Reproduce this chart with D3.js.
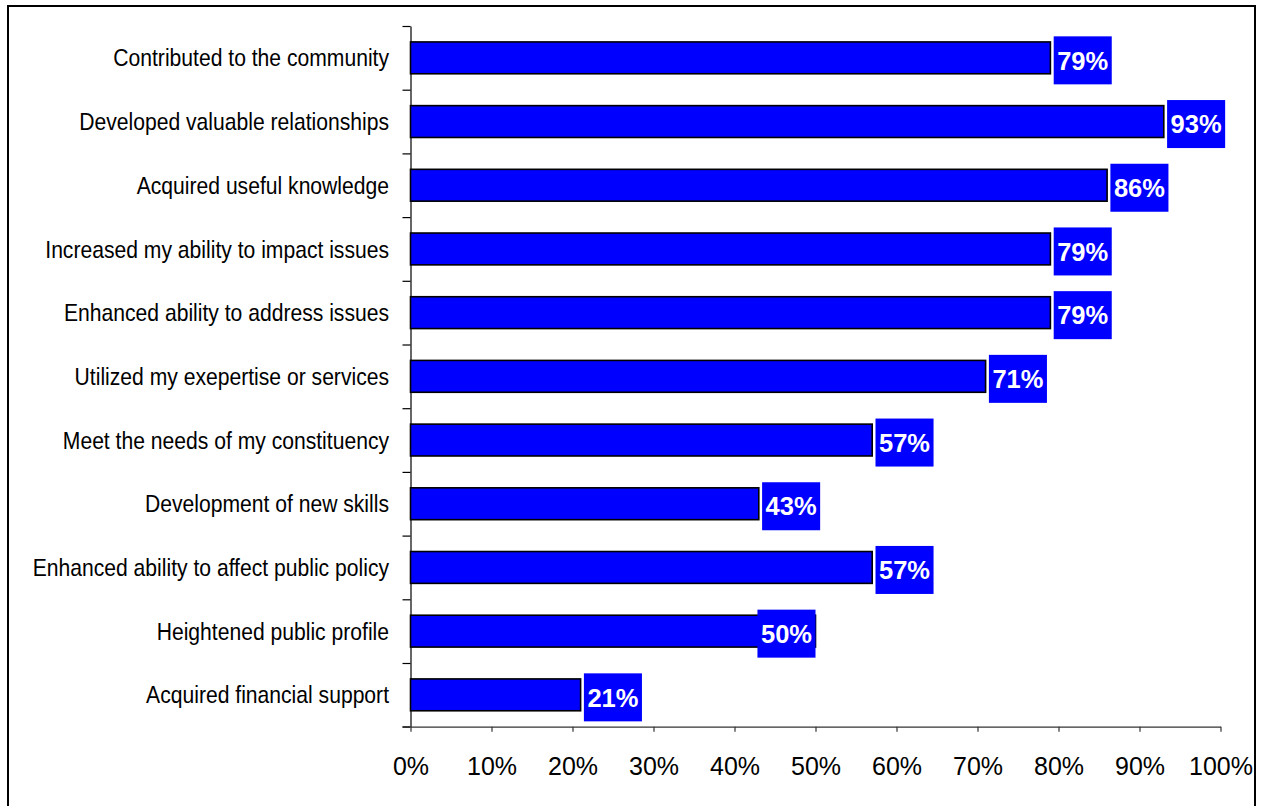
<!DOCTYPE html>
<html>
<head>
<meta charset="utf-8">
<script src="https://cdn.jsdelivr.net/npm/d3@7"></script>
<style>
  html, body { margin: 0; padding: 0; background: #fff; }
  svg { display: block; }
  text { font-family: Arial, "Liberation Sans", sans-serif; }
</style>
</head>
<body>
<svg id="chart" width="1262" height="806"></svg>
<script>
// Survey outcomes, top to bottom
const categories = [
  "Contributed to the community",
  "Developed valuable relationships",
  "Acquired useful knowledge",
  "Increased my ability to impact issues",
  "Enhanced ability to address issues",
  "Utilized my exepertise or services",
  "Meet the needs of my constituency",
  "Development of new skills",
  "Enhanced ability to affect public policy",
  "Heightened public profile",
  "Acquired financial support"
];
const values = [79, 93, 86, 79, 79, 71, 57, 43, 57, 50, 21];
const tickValues = [0, 10, 20, 30, 40, 50, 60, 70, 80, 90, 100];
// Labels that sit against the inside end of their bar
const insideLabelCategories = ["Heightened public profile"];

const svg = d3.select("#chart");
const W = 1262, H = 806;
const margin = { left: 410.5, right: 41.5, top: 26, bottom: 79.3 };

// Outer frame (open at the bottom edge of the page)
svg.append("path")
  .attr("d", `M8,${H + 4} L8,6 L1255,6 L1255,${H + 4}`)
  .attr("fill", "none")
  .attr("stroke", "#000")
  .attr("stroke-width", 2);

const x = d3.scaleLinear().domain([0, 100]).range([margin.left, W - margin.right]);
const y = d3.scaleBand().domain(categories)
  .range([margin.top, H - margin.bottom])
  .paddingInner(0.5).paddingOuter(0.25);
// boundaries between categories for the y tick marks
const yEdge = d3.scaleLinear().domain([0, categories.length]).range([margin.top, H - margin.bottom]);

const axisY = H - margin.bottom;

// Y axis with ticks between categories
const gy = svg.append("g")
  .attr("transform", `translate(${margin.left},0)`)
  .call(d3.axisLeft(yEdge).tickValues(d3.range(0, categories.length + 1))
    .tickSize(8).tickSizeOuter(0).tickFormat(""));
gy.select(".domain").attr("stroke", "#000").attr("stroke-width", 1.2);
gy.selectAll(".tick line").attr("stroke", "#000").attr("stroke-width", 1.2);

// X axis
const gx = svg.append("g")
  .attr("transform", `translate(0,${axisY})`)
  .call(d3.axisBottom(x).tickValues(tickValues).tickSize(5).tickSizeOuter(0)
    .tickFormat(d => d + "%"));
gx.select(".domain").attr("stroke", "#333").attr("stroke-width", 1.2);
gx.selectAll(".tick line").attr("stroke", "#333").attr("stroke-width", 1.2);
gx.selectAll(".tick text")
  .attr("y", 48.3).attr("dy", 0)
  .attr("fill", "#000")
  .style("font-size", "25px")
  .style("font-family", "Arial, 'Liberation Sans', sans-serif");
// extend the baseline left to meet the last y tick
svg.append("line")
  .attr("x1", margin.left - 8).attr("x2", margin.left)
  .attr("y1", axisY).attr("y2", axisY)
  .attr("stroke", "#333").attr("stroke-width", 1.2);

// Category labels (condensed)
svg.append("g").selectAll("text")
  .data(categories)
  .join("text")
  .attr("transform", d => `translate(389,${y(d) + y.bandwidth() / 2}) scale(0.88,1)`)
  .attr("text-anchor", "end")
  .attr("dy", "0.36em")
  .style("font-size", "24px")
  .attr("fill", "#000")
  .text(d => d);

// Bars
svg.append("g").selectAll("rect")
  .data(values)
  .join("rect")
  .attr("x", x(0))
  .attr("y", (d, i) => y(categories[i]))
  .attr("width", d => x(d) - x(0))
  .attr("height", y.bandwidth())
  .attr("fill", "#0000ff")
  .attr("stroke", "#000")
  .attr("stroke-width", 1.6);

// Value labels in blue boxes
const lab = svg.append("g").selectAll("g")
  .data(values.map((v, i) => ({ v, c: categories[i] })))
  .join("g");
lab.each(function(d) {
  const g = d3.select(this);
  const cy = y(d.c) + y.bandwidth() / 2 + 2.5;
  const t = g.append("text")
    .attr("fill", "#fff")
    .style("font-size", "25.5px")
    .style("font-weight", "bold")
    .attr("dy", "0.36em")
    .text(d.v + "%");
  const w = t.node().getComputedTextLength() + 7;
  const h = 48;
  const inside = insideLabelCategories.includes(d.c);
  const bx = inside ? x(d.v) - w : x(d.v) + 3.3;
  g.insert("rect", "text")
    .attr("x", bx).attr("y", cy - h / 2)
    .attr("width", w).attr("height", h)
    .attr("fill", "#0000ff");
  t.attr("x", bx + 3.5).attr("y", cy);
});
</script>
</body>
</html>
